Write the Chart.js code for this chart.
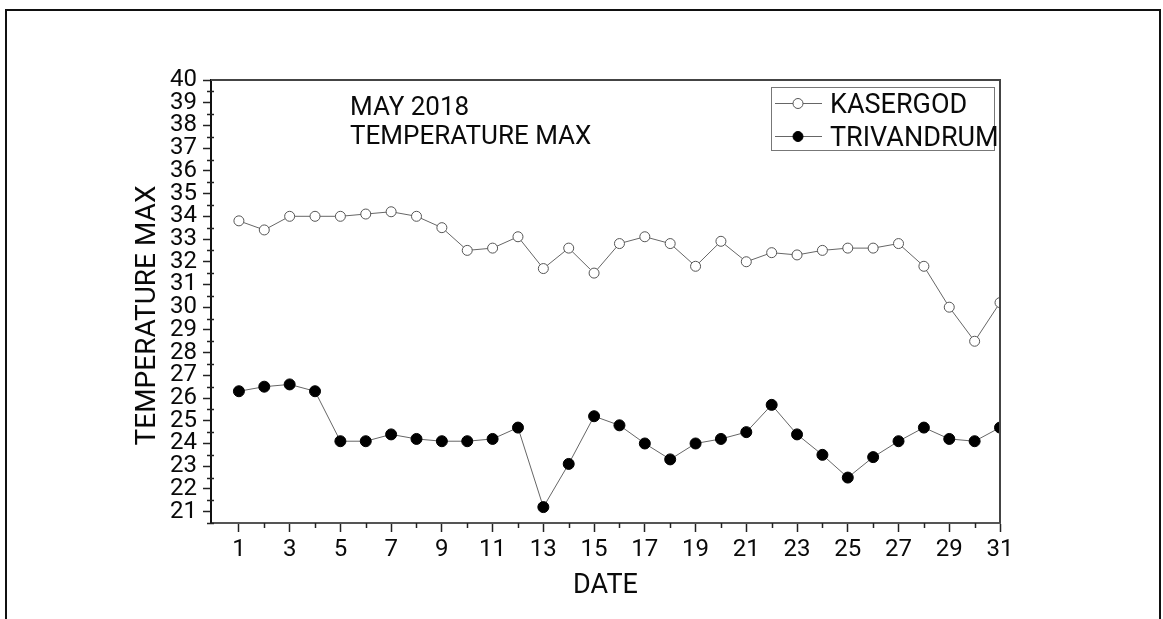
<!DOCTYPE html>
<html>
<head>
<meta charset="utf-8">
<script src="https://cdn.jsdelivr.net/npm/chart.js@4"></script>
<style>
body { margin: 0; background: #fff; }
#frame {
	position: absolute; left: 5px; top: 9px; width: 1156px; height: 700px;
	box-sizing: border-box; border: 2px solid #111; border-bottom: none;
}
#myChart { position: absolute; left: 0; top: 0; }
</style>
</head>
<body>
<div id="frame"></div>
<canvas id="myChart" width="1163" height="619"></canvas>
<script>
// values
var days = [1, 2, 3, 4, 5, 6, 7, 8, 9, 10, 11, 12, 13, 14, 15, 16, 17, 18, 19, 20, 21, 22, 23, 24, 25, 26, 27, 28, 29, 30, 31];
var kasergod = [33.8, 33.4, 34.0, 34.0, 34.0, 34.1, 34.2, 34.0, 33.5, 32.5, 32.6, 33.1, 31.7, 32.6, 31.5, 32.8, 33.1, 32.8, 31.8, 32.9, 32.0, 32.4, 32.3, 32.5, 32.6, 32.6, 32.8, 31.8, 30.0, 28.5, 30.2];
var trivandrum = [26.3, 26.5, 26.6, 26.3, 24.1, 24.1, 24.4, 24.2, 24.1, 24.1, 24.2, 24.7, 21.2, 23.1, 25.2, 24.8, 24.0, 23.3, 24.0, 24.2, 24.5, 25.7, 24.4, 23.5, 22.5, 23.4, 24.1, 24.7, 24.2, 24.1, 24.7];

var dayTicks = [1, 3, 5, 7, 9, 11, 13, 15, 17, 19, 21, 23, 25, 27, 29, 31];
var dayMinorTicks = [2, 4, 6, 8, 10, 12, 14, 16, 18, 20, 22, 24, 26, 28, 30];
var tempTicks = [21, 22, 23, 24, 25, 26, 27, 28, 29, 30, 31, 32, 33, 34, 35, 36, 37, 38, 39, 40];
var tempMinorTicks = [20.5, 21.5, 22.5, 23.5, 24.5, 25.5, 26.5, 27.5, 28.5, 29.5, 30.5, 31.5, 32.5, 33.5, 34.5, 35.5, 36.5, 37.5, 38.5, 39.5];

var seriesNames = ["KASERGOD", "TRIVANDRUM"];
var titleLines = ["MAY 2018", "TEMPERATURE MAX"];
var yTitle = "TEMPERATURE MAX";

function toPoints(values) {
	return days.map(function (d, i) { return { x: d, y: values[i] }; });
}

Chart.defaults.font.family = "Roboto";
Chart.defaults.color = "#0a0a0a";

// minor ticks, plot frame, y title, text block and boxed legend
var extrasPlugin = {
	id: "extras",
	afterDraw: function (chart) {
		var ctx = chart.ctx;
		var area = chart.chartArea;
		var xAxis = chart.scales.x;
		var yAxis = chart.scales.y;

		ctx.save();
		ctx.strokeStyle = "#444";
		ctx.lineWidth = 2;
		ctx.beginPath();
		ctx.moveTo(area.left, area.top);
		ctx.lineTo(area.right, area.top);
		ctx.lineTo(area.right, area.bottom);
		ctx.stroke();

		ctx.strokeStyle = "#222";
		ctx.lineWidth = 1.5;
		dayMinorTicks.forEach(function (v) {
			var x = Math.round(xAxis.getPixelForValue(v)) + 0.5;
			ctx.beginPath();
			ctx.moveTo(x, area.bottom);
			ctx.lineTo(x, area.bottom + 5);
			ctx.stroke();
		});
		tempMinorTicks.forEach(function (v) {
			var y = Math.round(yAxis.getPixelForValue(v)) + 0.5;
			ctx.beginPath();
			ctx.moveTo(area.left - 4, y);
			ctx.lineTo(area.left + 3, y);
			ctx.stroke();
		});

		// y axis title, sits a little below the middle of the axis
		ctx.fillStyle = "#0a0a0a";
		ctx.save();
		ctx.translate(area.left - 63, (area.top + area.bottom) / 2 + 14);
		ctx.rotate(-Math.PI / 2);
		ctx.font = "28px Roboto";
		ctx.textAlign = "center";
		ctx.textBaseline = "middle";
		ctx.fillText(yTitle, 0, 0);
		ctx.restore();

		// text block inside the plot
		ctx.font = "26px Roboto";
		ctx.textAlign = "left";
		ctx.textBaseline = "alphabetic";
		titleLines.forEach(function (line, i) {
			ctx.fillText(line, area.left + 139, area.top + 35 + i * 29);
		});

		// legend box
		var bx = area.right - 229, by = area.top + 7, bw = 223, bh = 63;
		ctx.strokeStyle = "#777";
		ctx.lineWidth = 1;
		ctx.strokeRect(bx + 0.5, by + 0.5, bw, bh);
		chart.data.datasets.forEach(function (ds, i) {
			var cy = by + 16 + i * 33;
			ctx.strokeStyle = ds.borderColor;
			ctx.lineWidth = 1;
			ctx.beginPath();
			ctx.moveTo(bx + 4, cy + 0.5);
			ctx.lineTo(bx + 51, cy + 0.5);
			ctx.stroke();
			ctx.beginPath();
			ctx.arc(bx + 27, cy + 0.5, 5, 0, Math.PI * 2);
			ctx.fillStyle = ds.pointBackgroundColor;
			ctx.fill();
			ctx.strokeStyle = ds.pointBorderColor;
			ctx.stroke();
			ctx.fillStyle = "#0a0a0a";
			ctx.font = "27px Roboto";
			ctx.fillText(ds.label, bx + 59, cy + 10);
		});
		ctx.restore();
	}
};

var config = {
	type: "line",
	data: {
		datasets: [{
			label: seriesNames[0],
			data: toPoints(kasergod),
			borderColor: "#666",
			borderWidth: 1,
			pointRadius: 5,
			pointBackgroundColor: "#fff",
			pointBorderColor: "#555",
			pointBorderWidth: 1
		}, {
			label: seriesNames[1],
			data: toPoints(trivandrum),
			borderColor: "#666",
			borderWidth: 1,
			pointRadius: 5.5,
			pointBackgroundColor: "#000",
			pointBorderColor: "#000",
			pointBorderWidth: 1
		}]
	},
	plugins: [extrasPlugin],
	options: {
		responsive: false,
		animation: false,
		devicePixelRatio: 1,
		layout: { padding: { left: 0, top: 80, right: 163, bottom: 0 } },
		plugins: {
			legend: { display: false },
			tooltip: { enabled: false }
		},
		scales: {
			x: {
				type: "linear",
				min: -0.1,
				max: 31,
				afterFit: function (scale) { scale.height = 96; },
				afterBuildTicks: function (scale) {
					scale.ticks = dayTicks.map(function (v) { return { value: v }; });
				},
				ticks: { autoSkip: false, maxRotation: 0, padding: 4, font: { size: 24 } },
				grid: { drawOnChartArea: false, tickLength: 9, tickColor: "#222", tickWidth: 1.5 },
				border: { color: "#555", width: 2 },
				title: { display: true, text: "DATE", font: { size: 27 }, padding: { top: 0, bottom: 17 } }
			},
			y: {
				min: 20.5,
				max: 40,
				afterFit: function (scale) { scale.width = 211; },
				afterBuildTicks: function (scale) {
					scale.ticks = tempTicks.map(function (v) { return { value: v }; });
				},
				ticks: { autoSkip: false, padding: 6, font: { size: 24 } },
				grid: { drawOnChartArea: false, tickLength: 8, tickColor: "#222", tickWidth: 1.5 },
				border: { color: "#111", width: 2 }
			}
		}
	}
};

var myChart = new Chart(document.getElementById("myChart").getContext("2d"), config);
</script>
</body>
</html>
